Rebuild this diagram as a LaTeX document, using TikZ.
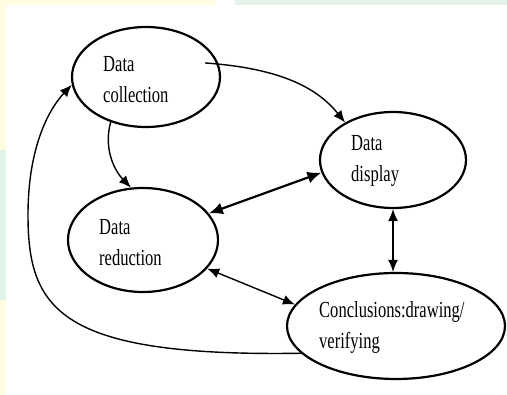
\documentclass[tikz,border=0pt]{standalone}
\usepackage{fontspec}
\setmainfont{Liberation Serif}
\newfontfamily\diagfont[FakeStretch=0.72]{Liberation Serif}
\usetikzlibrary{arrows.meta,shapes.geometric,calc}
\definecolor{bandyellow}{HTML}{FFFCE0}
\definecolor{bandgreen}{HTML}{E2F3EA}
\begin{document}
\begin{tikzpicture}[x=1pt,y=-1pt,
  bubble/.style={draw=black,line width=2.2pt,ellipse,inner sep=0pt},
  label/.style={anchor=west,align=left,inner sep=0pt,font=\diagfont\fontsize{23}{31}\selectfont},
  arr/.style={line width=1.4pt,-{Latex[length=12pt,width=10pt]}},
  darr/.style={line width=1.4pt,{Latex[length=12pt,width=10pt]}-{Latex[length=12pt,width=10pt]}},
  thickarr/.style={line width=2.2pt,{Latex[length=14pt,width=12pt]}-{Latex[length=14pt,width=12pt]}}]
\useasboundingbox (0,0) rectangle (507,395);
% faint background bands
\fill[bandyellow] (0,0) rectangle (215,5);
\fill[bandgreen] (235,0) rectangle (507,5);
\fill[bandyellow] (0,5) rectangle (6,150);
\fill[bandgreen] (0,150) rectangle (6,300);
\fill[bandyellow] (0,300) rectangle (6,395);
% ellipses
\node[bubble,minimum width=148pt,minimum height=100pt] (dc) at (146,77) {};
\node[bubble,minimum width=146pt,minimum height=96pt] (dd) at (393,160) {};
\node[bubble,minimum width=150pt,minimum height=104pt] (dr) at (143,240) {};
\node[bubble,minimum width=218pt,minimum height=106pt] (cc) at (396,326) {};
% texts
\node[label] (tdc) at (103,80) {Data\\collection};
\node[label] (tdd) at (351,161) {Data\\display};
\node[label] (tdr) at (99,243) {Data\\reduction};
\node[label] (tcc) at (319,328) {Conclusions:drawing/\\verifying};
% connectors
\draw[arr] ([xshift=-13pt]dc.11) .. controls (275,68) and (315,85) .. (dd.142);
\draw[arr] (dc.232) .. controls (104,145) and (112,168) .. (dr.103);
\draw[thickarr] (dr.22) -- (dd.190);
\draw[darr] (dd.south) -- (dd.south |- cc.north);
\draw[darr] (dr.-24) -- (cc.168);
\draw[arr] (cc.196) .. controls (60,357) and (28,310) .. (28,215)
  .. controls (28,145) and (50,108) .. (dc.186);
\end{tikzpicture}
\end{document}
